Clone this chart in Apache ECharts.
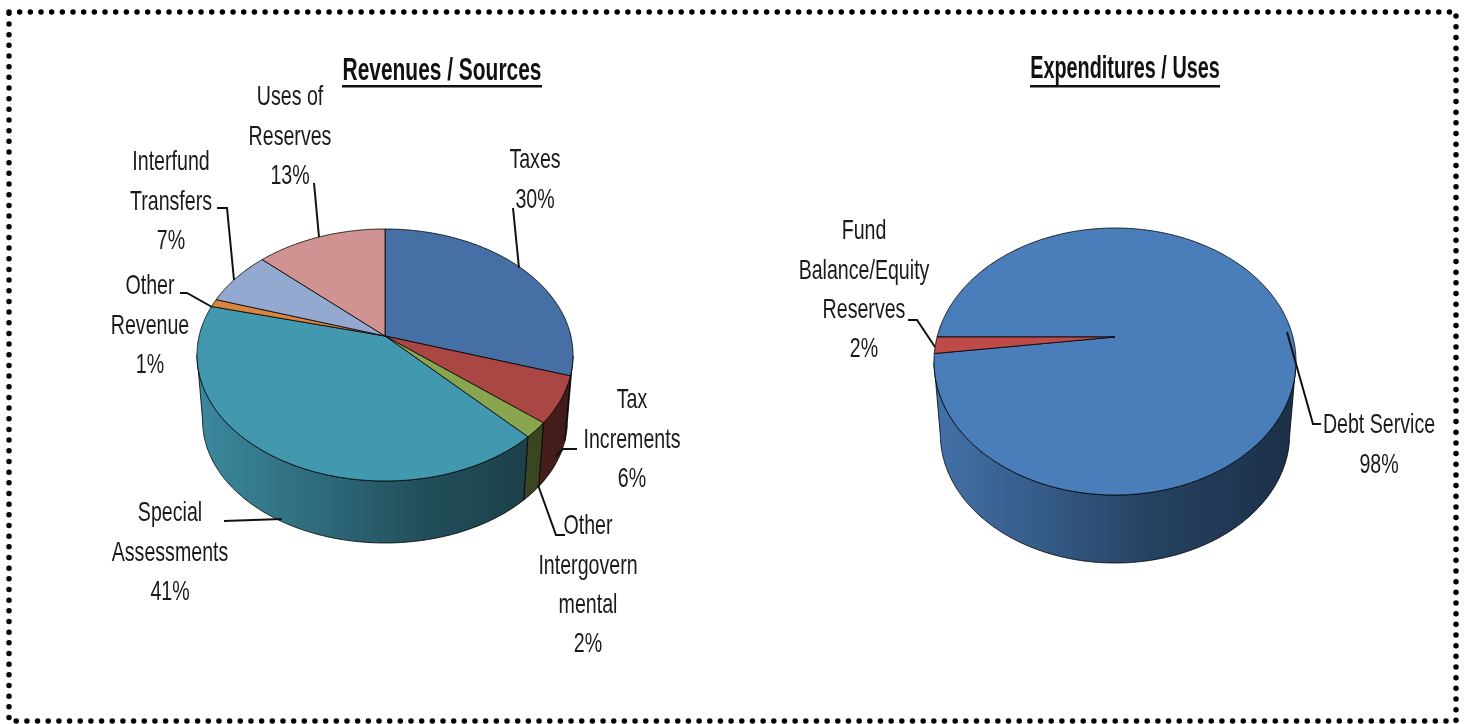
<!DOCTYPE html>
<html>
<head>
<meta charset="utf-8">
<title>Revenues and Expenditures</title>
<script src="https://cdn.jsdelivr.net/npm/echarts@6/dist/echarts.min.js"></script>
<style>
  html, body { margin: 0; padding: 0; background: #fff; }
  #chart { width: 1470px; height: 724px; }
</style>
</head>
<body>
<div id="chart"></div>
<script>
// data
const revenueNames = ["Taxes", "Tax\nIncrements", "Other\nIntergovern\nmental", "Special\nAssessments", "Other\nRevenue", "Interfund\nTransfers", "Uses of\nReserves"];
const revenueValues = [30, 6, 2, 41, 1, 7, 13];
const expenseNames = ["Debt Service", "Fund\nBalance/Equity\nReserves"];
const expenseValues = [98, 2];

const revenueColors = ["#466fa5", "#aa4643", "#89a54e", "#4198af", "#db843d", "#93a9cf", "#d19392"];
const expenseColors = ["#4a7ebb", "#be4b48"];

// label centre x, first line centre y, leader elbows
const revenueLabels = [
  { x: 535, y: 159, leader: [[513, 208], [519, 268]] },
  { x: 632, y: 399, leader: [[577, 449], [563, 449], [556, 456]] },
  { x: 588, y: 525, leader: [[565, 535], [556, 535], [538, 485]] },
  { x: 170, y: 512, leader: [[224, 521], [282, 519]] },
  { x: 150, y: 285, leader: [[180, 293], [187, 293], [212, 307]] },
  { x: 171, y: 161, leader: [[217, 208], [227, 208], [234, 280]] },
  { x: 290, y: 96, leader: [[314, 183], [319, 237]] }
];
const expenseLabels = [
  { x: 1379, y: 424, leader: [[1321, 424], [1313, 424], [1287, 332]] },
  { x: 864, y: 230, leader: [[908, 320], [917, 320], [935, 347]] }
];

// no narrow font is installed, so the text is squeezed sideways
const FONT = '"Liberation Sans", sans-serif';
const TEXT_SQUEEZE = 0.7;
const LINE_HEIGHT = 39.4;
const WALL_SHADES = [[0, 0.9], [0.3, 0.72], [0.6, 0.52], [1, 0.38]];

function shade(hex, f) {
  const n = parseInt(hex.slice(1), 16);
  const r = Math.round(((n >> 16) & 255) * f);
  const g = Math.round(((n >> 8) & 255) * f);
  const b = Math.round((n & 255) * f);
  return `rgb(${r},${g},${b})`;
}

// pie seen in perspective: the centre of the disc is not the centre of the ellipse
function makeDisc(cx, rx, top, apex, bottom, depth, wallScale) {
  const pc = (2 * apex - top - bottom) / (bottom - top);
  const a = bottom * (1 + pc) - apex;
  const k = rx * Math.sqrt(1 - pc * pc);
  const yc = (top + bottom) / 2;
  const ry = (bottom - top) / 2;
  const ycBottom = bottom + depth - ry * wallScale;
  return {
    cx, rx, apex, yc,
    rim(deg) {
      const t = (deg * Math.PI) / 180;
      const Y = -Math.cos(t);
      const den = 1 + pc * Y;
      return [cx + (k * Math.sin(t)) / den, (a * Y + apex) / den];
    },
    lower(p) {
      return [cx + (p[0] - cx) * wallScale, ycBottom + (p[1] - yc) * wallScale];
    }
  };
}

function pieSeries(names, values, colors, labels, disc, startAngle) {
  const total = values.reduce((s, v) => s + v, 0);
  const starts = [];
  let run = startAngle;
  values.forEach((v) => {
    starts.push(run);
    run += (v / total) * 360;
  });

  return {
    type: "custom",
    coordinateSystem: "none",
    silent: true,
    data: values.map((v) => [v]),
    renderItem(params, api) {
      const i = params.dataIndex;
      const value = api.value(0);
      const from = starts[i];
      const to = from + (value / total) * 360;
      const arc = [];
      for (let d = from; d < to; d += 0.5) arc.push(disc.rim(d));
      arc.push(disc.rim(to));

      const children = [];
      const front = arc.filter((p) => p[1] >= disc.yc);
      if (front.length > 1) {
        const stops = WALL_SHADES.map((s) => ({ offset: s[0], color: shade(colors[i], s[1]) }));
        children.push({
          type: "polygon",
          shape: { points: front.concat(front.map(disc.lower).reverse()) },
          style: {
            fill: new echarts.graphic.LinearGradient(disc.cx - disc.rx, 0, disc.cx + disc.rx, 0, stops, true),
            stroke: "rgba(0,0,0,0.8)",
            lineWidth: 1
          }
        });
      }
      children.push({
        type: "polygon",
        shape: { points: [[disc.cx, disc.apex]].concat(arc) },
        style: { fill: colors[i], stroke: "rgba(0,0,0,0.8)", lineWidth: 1 }
      });

      const lab = labels[i];
      children.push({
        type: "polyline",
        shape: { points: lab.leader },
        style: { fill: "none", stroke: "#111", lineWidth: 2 }
      });
      children.push({
        type: "text",
        x: lab.x,
        y: lab.y - LINE_HEIGHT / 2 + 1.5,
        scaleX: TEXT_SQUEEZE,
        style: {
          text: `${names[i]}\n${value}%`,
          fontFamily: FONT,
          fontSize: 28,
          lineHeight: LINE_HEIGHT,
          fill: "#1a1a1a",
          textAlign: "center",
          textVerticalAlign: "top"
        }
      });
      return { type: "group", children };
    }
  };
}

const revenueDisc = makeDisc(385, 188, 229, 336, 481, 62, 0.97);
const expenseDisc = makeDisc(1115, 181, 228, 337, 495, 68, 0.965);

function chartTitle(text, x, y, squeeze) {
  return {
    type: "text",
    silent: true,
    x,
    y,
    scaleX: squeeze,
    style: {
      text,
      fontFamily: FONT,
      fontWeight: "bold",
      fontSize: 31,
      fill: "#111",
      textAlign: "center",
      textVerticalAlign: "middle"
    }
  };
}

const chart = echarts.init(document.getElementById("chart"), null, { renderer: "canvas" });
chart.setOption({
  animation: false,
  backgroundColor: "#fff",
  graphic: [
    {
      type: "rect",
      silent: true,
      shape: { x: 9, y: 12, width: 1447, height: 709 },
      style: { fill: "none", stroke: "#000", lineWidth: 5.5, lineDash: [0, 10.67], lineCap: "round" }
    },
    chartTitle("Revenues / Sources", 442, 71, 0.675),
    chartTitle("Expenditures / Uses", 1125, 69, 0.64),
    { type: "rect", silent: true, shape: { x: 342, y: 85, width: 200, height: 2.5 }, style: { fill: "#111" } },
    { type: "rect", silent: true, shape: { x: 1030, y: 85, width: 190, height: 2.5 }, style: { fill: "#111" } }
  ],
  series: [
    pieSeries(revenueNames, revenueValues, revenueColors, revenueLabels, revenueDisc, 0),
    pieSeries(expenseNames, expenseValues, expenseColors, expenseLabels, expenseDisc, 270)
  ]
});
</script>
</body>
</html>
